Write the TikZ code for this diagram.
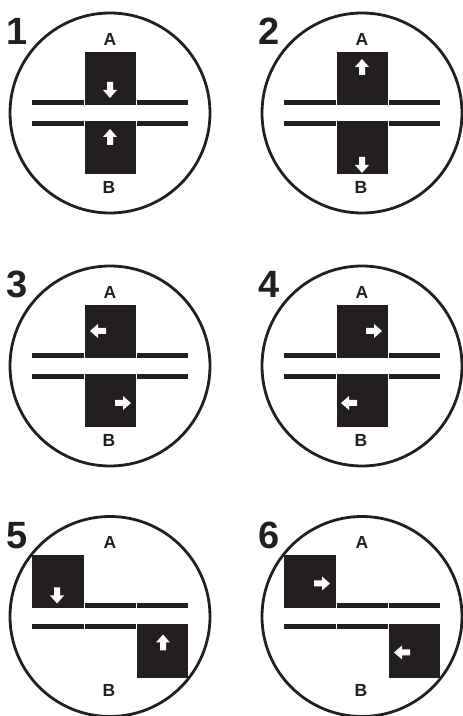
\documentclass[tikz,border=0pt]{standalone}
\usepackage{fontspec}
\setmainfont{Liberation Sans}
\definecolor{ink}{HTML}{231F20}
\tikzset{
  ring/.style={draw=ink, line width=2.8pt},
  bar/.style={fill=ink},
  lbl/.style={font=\fontsize{17.5}{17.5}\selectfont\bfseries, text=ink, inner sep=0pt},
  num/.style={font=\fontsize{38}{38}\selectfont\bfseries, text=ink, inner sep=0pt, anchor=base west},
  wa/.pic={\fill[white] (-8,-3) -- (0,-3) -- (0,-7) -- (8,0) -- (0,7) -- (0,3) -- (-8,3) -- cycle;}
}
% common parts of a dial: ring, number, A, B
\newcommand\dialbase[1]{%
  \draw[ring] (0,0) circle[radius=100];
  \node[num] (n#1) at (-104,68) {#1};
  \node[lbl] (a#1) at (0,74) {A};
  \node[lbl] (b#1) at (-1,-74) {B};
}
% centred variant: outer line segments and two middle blocks
\newcommand\centrebars{%
  \fill[bar] (-78,8) rectangle (-26.5,13);
  \fill[bar] (26.5,8) rectangle (78,13);
  \fill[bar] (-78,-13) rectangle (-26.5,-8);
  \fill[bar] (26.5,-13) rectangle (78,-8);
  \fill[bar] (-25.5,8) rectangle (25.5,61);
  \fill[bar] (-25.5,-61) rectangle (25.5,-8);
}
% offset variant: blocks at the left top and right bottom
\newcommand\offsetbars{%
  \fill[bar] (-25.5,8) rectangle (25.5,13);
  \fill[bar] (26.5,8) rectangle (78,13);
  \fill[bar] (-78,-13) rectangle (-26.5,-8);
  \fill[bar] (-25.5,-13) rectangle (25.5,-8);
  \fill[bar] (-78,8) rectangle (-26.5,61);
  \fill[bar] (26.5,-62) rectangle (78,-8);
}
\begin{document}
\begin{tikzpicture}[x=1pt,y=1pt]
\useasboundingbox (0,0) rectangle (463,716);
% 1
\begin{scope}[shift={(110,603)}]
  \dialbase{1}
  \centrebars
  \pic[rotate=-90] at (0,23) {wa};
  \pic[rotate=90] at (0,-24) {wa};
\end{scope}
% 2
\begin{scope}[shift={(362,603)}]
  \dialbase{2}
  \centrebars
  \pic[rotate=90] at (0,46) {wa};
  \pic[rotate=-90] at (0,-52) {wa};
\end{scope}
% 3
\begin{scope}[shift={(110,350)}]
  \dialbase{3}
  \centrebars
  \pic[rotate=180] at (-12,35) {wa};
  \pic at (13,-37) {wa};
\end{scope}
% 4
\begin{scope}[shift={(362,350)}]
  \dialbase{4}
  \centrebars
  \pic at (12,35) {wa};
  \pic[rotate=180] at (-13,-37) {wa};
\end{scope}
% 5
\begin{scope}[shift={(110,99.5)}]
  \dialbase{5}
  \offsetbars
  \pic[rotate=-90] at (-53,21) {wa};
  \pic[rotate=90] at (53,-26) {wa};
\end{scope}
% 6
\begin{scope}[shift={(362,99.5)}]
  \dialbase{6}
  \offsetbars
  \pic at (-40,33) {wa};
  \pic[rotate=180] at (40,-36) {wa};
\end{scope}
\end{tikzpicture}
\end{document}
